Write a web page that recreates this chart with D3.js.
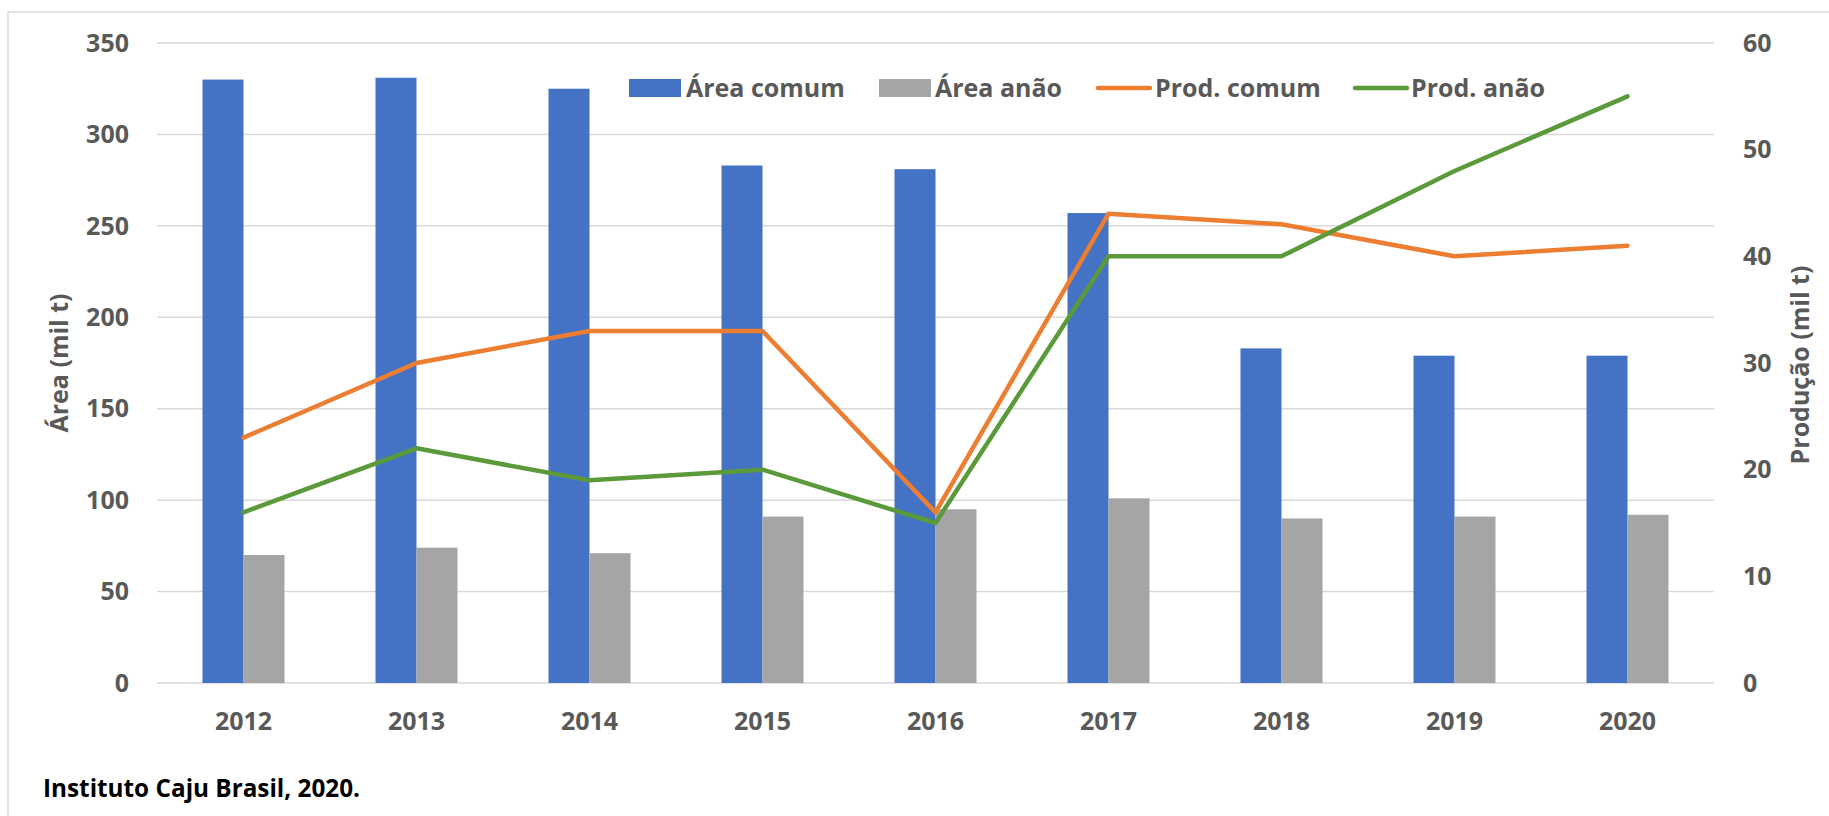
<!DOCTYPE html>
<html><head><meta charset="utf-8">
<script src="https://cdn.jsdelivr.net/npm/d3@7"></script>
<style>
html,body{margin:0;padding:0;background:#fff;}
svg{display:block;}
text{font-family:"Open Sans","Noto Sans",sans-serif;font-weight:bold;}
</style></head>
<body>
<script>
const years = ["2012","2013","2014","2015","2016","2017","2018","2019","2020"];
const areaComum = [330,331,325,283,281,257,183,179,179];
const areaAnao = [70,74,71,91,95,101,90,91,92];
const prodComum = [23,30,33,33,16,44,43,40,41];
const prodAnao = [16,22,19,20,15,40,40,48,55];
const leftTicks = [0,50,100,150,200,250,300,350];
const rightTicks = [0,10,20,30,40,50,60];
const legendLabels = ["Área comum","Área anão","Prod. comum","Prod. anão"];
const caption = "Instituto Caju Brasil, 2020.";

(function(){
const W=1829,H=816;
const colors={blue:"#4472C4",gray:"#A5A5A5",orange:"#ED7D31",green:"#5B9A3A",grid:"#D9D9D9",text:"#595959"};
const svg=d3.select("body").append("svg").attr("width",W).attr("height",H);

// frame
svg.append("rect").attr("x",8).attr("y",12).attr("width",1900).attr("height",900)
  .attr("fill","none").attr("stroke",colors.grid).attr("stroke-width",1.5);

const pL=157,pR=1714,pT=43,pB=683;
const x=d3.scaleBand().domain(years).range([pL,pR]).paddingInner(0.526).paddingOuter(0.263);
const yL=d3.scaleLinear().domain([0,350]).range([pB,pT]);
const yR=d3.scaleLinear().domain([0,60]).range([pB,pT]);
const bw=x.bandwidth()/2;

// gridlines
svg.append("g").selectAll("line").data(leftTicks).join("line")
  .attr("x1",pL).attr("x2",pR).attr("y1",d=>yL(d)).attr("y2",d=>yL(d))
  .attr("stroke",colors.grid).attr("stroke-width",1.5);

// left tick labels
svg.append("g").selectAll("text").data(leftTicks).join("text")
  .attr("x",129).attr("y",d=>yL(d)).attr("dy","0.35em").attr("text-anchor","end")
  .attr("font-size",25).attr("fill",colors.text).text(d=>d);
// right tick labels
svg.append("g").selectAll("text").data(rightTicks).join("text")
  .attr("x",1743).attr("y",d=>yR(d)).attr("dy","0.35em").attr("text-anchor","start")
  .attr("font-size",25).attr("fill",colors.text).text(d=>d);
// x labels
svg.append("g").selectAll("text").data(years).join("text")
  .attr("x",d=>x(d)+x.bandwidth()/2).attr("y",721.5).attr("dy","0.35em").attr("text-anchor","middle")
  .attr("font-size",25).attr("fill",colors.text).text(d=>d);

// bars
svg.append("g").selectAll("rect").data(years).join("rect")
  .attr("x",d=>x(d)).attr("width",bw).attr("y",(d,i)=>yL(areaComum[i])).attr("height",(d,i)=>yL(0)-yL(areaComum[i]))
  .attr("fill",colors.blue);
svg.append("g").selectAll("rect").data(years).join("rect")
  .attr("x",d=>x(d)+bw).attr("width",bw).attr("y",(d,i)=>yL(areaAnao[i])).attr("height",(d,i)=>yL(0)-yL(areaAnao[i]))
  .attr("fill",colors.gray);

// lines
const line=d3.line().x((d,i)=>x(years[i])+x.bandwidth()/2);
svg.append("path").datum(prodComum).attr("d",line.y(d=>yR(d))).attr("fill","none")
  .attr("stroke",colors.orange).attr("stroke-width",4.5).attr("stroke-linejoin","round").attr("stroke-linecap","round");
svg.append("path").datum(prodAnao).attr("d",line.y(d=>yR(d))).attr("fill","none")
  .attr("stroke",colors.green).attr("stroke-width",4.5).attr("stroke-linejoin","round").attr("stroke-linecap","round");

// axis titles
svg.append("text").attr("transform","translate(59,363) rotate(-90)").attr("text-anchor","middle").attr("dy","0.35em")
  .attr("font-size",25).attr("fill",colors.text).text("Área (mil t)");
svg.append("text").attr("transform","translate(1800,365) rotate(-90)").attr("text-anchor","middle").attr("dy","0.35em")
  .attr("font-size",25).attr("fill",colors.text).text("Produção (mil t)");

// legend
const lg=svg.append("g");
const legItems=[
  {type:"rect",color:colors.blue,sx:629,tx:686},
  {type:"rect",color:colors.gray,sx:879,tx:935},
  {type:"line",color:colors.orange,sx:1096,tx:1155},
  {type:"line",color:colors.green,sx:1353,tx:1411}
];
legItems.forEach((it,i)=>{
  if(it.type==="rect"){
    lg.append("rect").attr("x",it.sx).attr("y",79).attr("width",52).attr("height",18).attr("fill",it.color);
  } else {
    lg.append("line").attr("x1",it.sx+2).attr("x2",it.sx+54).attr("y1",88).attr("y2",88)
      .attr("stroke",it.color).attr("stroke-width",4.5).attr("stroke-linecap","round");
  }
  lg.append("text").attr("x",it.tx).attr("y",88).attr("dy","0.35em").attr("font-size",25)
    .attr("fill",colors.text).text(legendLabels[i]);
});

// caption
svg.append("text").attr("x",43).attr("y",788).attr("dy","0.35em").attr("font-size",24.3)
  .attr("fill","#000").text(caption);
})();
</script>
</body></html>
